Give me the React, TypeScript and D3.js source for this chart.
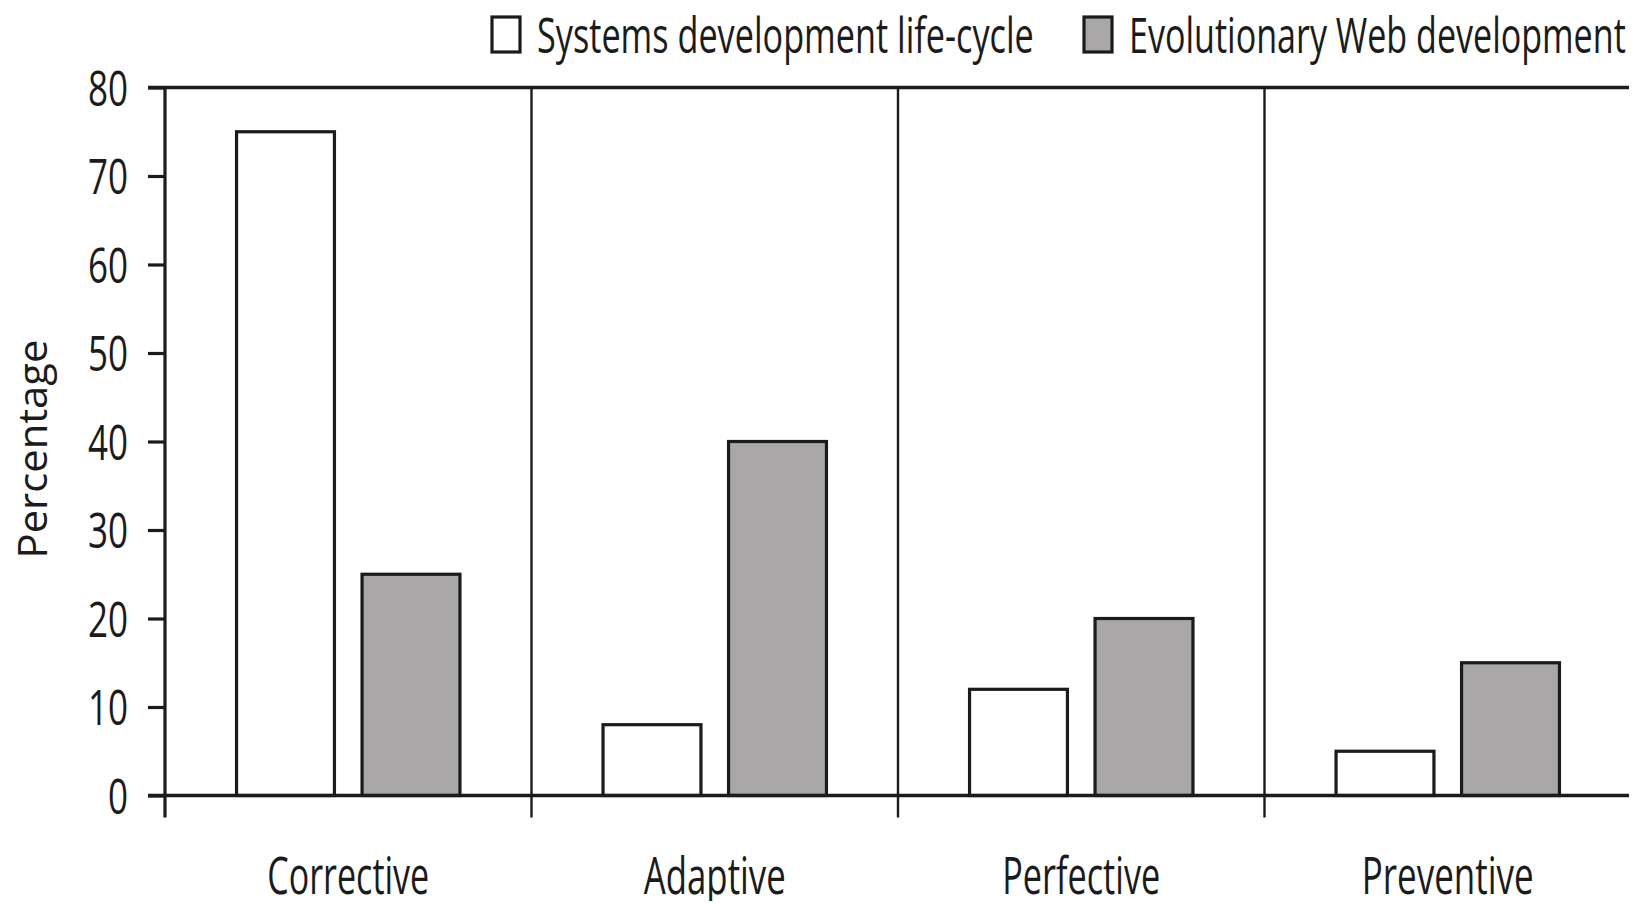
import React, { useEffect, useRef } from "react";
import * as d3 from "d3";

const categories = ["Corrective", "Adaptive", "Perfective", "Preventive"];
const seriesNames = ["Systems development life-cycle", "Evolutionary Web development"];
const sdlcValues = [75, 8, 12, 5];
const webValues = [25, 40, 20, 15];
const yTicks = [0, 10, 20, 30, 40, 50, 60, 70, 80];

// widths the condensed reference font takes (px)
const catWidths = [162, 142, 158, 172];
const legendWidths = [497, 497];

const W = 1637;
const H = 909;
const FONT = "'Open Sans', 'Noto Sans', sans-serif";
const INK = "#1b1b1b";
const GREY = "#a9a7a8";

// squeeze a text horizontally to a wanted width (the reference font is condensed)
function squeeze(sel: any, pos: (d: any, i: number) => [number, number], width: (d: any, i: number) => number, rot = 0) {
  sel.each(function (this: SVGTextElement, d: any, i: number) {
    const n = this.getComputedTextLength() || 1;
    const [px, py] = pos(d, i);
    const s = width(d, i) / n;
    d3.select(this).attr("transform", "translate(" + px + "," + py + ") rotate(" + rot + ") scale(" + s + ",1)");
  });
}

export default function App() {
  const ref = useRef<SVGSVGElement | null>(null);

  useEffect(() => {
    const svg = d3.select(ref.current);
    svg.selectAll("*").remove();

    const left = 165;
    const right = 1631;
    const top = 87.5;
    const bottom = 795.5;

    const x0 = d3.scaleBand<string>().domain(categories).range([left, right]).padding(0);
    const x1 = d3
      .scaleBand<string>()
      .domain(seriesNames)
      .range([0, x0.bandwidth()])
      .paddingInner(0.22)
      .paddingOuter(0.57);
    const y = d3.scaleLinear().domain([0, 80]).range([bottom, top]);

    const g = svg.append("g");

    // bars
    const rows = categories.map((c, i) => ({ c, vals: [sdlcValues[i], webValues[i]] }));
    const groups = g
      .selectAll(".grp")
      .data(rows)
      .enter()
      .append("g")
      .attr("transform", (d) => "translate(" + x0(d.c) + ",0)");
    groups
      .selectAll("rect")
      .data((d) => d.vals.map((v, j) => ({ v, s: seriesNames[j], j })))
      .enter()
      .append("rect")
      .attr("x", (d) => x1(d.s) as number)
      .attr("width", x1.bandwidth())
      .attr("y", (d) => y(d.v))
      .attr("height", (d) => bottom - y(d.v))
      .attr("fill", (d) => (d.j === 0 ? "#fff" : GREY))
      .attr("stroke", INK)
      .attr("stroke-width", 3.2);

    // category boundaries (dividers + ticks below axis)
    const bounds = categories.map((c) => x0(c) as number).concat([right]);
    g.selectAll(".div")
      .data(bounds)
      .enter()
      .append("line")
      .attr("x1", (d) => d)
      .attr("x2", (d) => d)
      .attr("y1", top)
      .attr("y2", bottom + 22)
      .attr("stroke", INK)
      .attr("stroke-width", (d, i) => (i === 0 || i === bounds.length - 1 ? 3.2 : 2.4));

    // frame top and x axis
    g.append("line").attr("x1", left - 17).attr("x2", right + 1.5).attr("y1", top).attr("y2", top)
      .attr("stroke", INK).attr("stroke-width", 3.4);
    g.append("line").attr("x1", left - 17).attr("x2", right + 1.5).attr("y1", bottom).attr("y2", bottom)
      .attr("stroke", INK).attr("stroke-width", 3.4);

    // y axis ticks + labels
    const yAxis = d3.axisLeft(y).tickValues(yTicks).tickSize(17).tickPadding(20).tickFormat(d3.format("d"));
    const ya = g.append("g").attr("transform", "translate(" + left + ",0)").call(yAxis);
    ya.select(".domain").remove();
    ya.selectAll(".tick line").attr("stroke", INK).attr("stroke-width", 3.2);
    ya.selectAll<SVGTextElement, number>(".tick text")
      .attr("font-family", FONT)
      .attr("font-size", 49)
      .attr("fill", INK)
      .attr("dy", "0.36em")
      .attr("textLength", (d) => String(d).length * 20)
      .attr("lengthAdjust", "spacingAndGlyphs");

    // category labels
    const cats = g
      .selectAll(".cat")
      .data(categories)
      .enter()
      .append("text")
      .attr("text-anchor", "middle")
      .attr("font-family", FONT)
      .attr("font-size", 51)
      .attr("fill", INK)
      .text((d) => d);
    squeeze(cats, (d) => [(x0(d) as number) + x0.bandwidth() / 2, 894], (d, i) => catWidths[i]);

    // y title
    const yt = g
      .append("text")
      .attr("text-anchor", "middle")
      .attr("font-family", FONT)
      .attr("font-size", 40)
      .attr("fill", INK)
      .text("Percentage");
    squeeze(yt, () => [47, 449], () => 219, -90);

    // legend
    const legendX = [492, 1084];
    const lg = g
      .selectAll(".lg")
      .data(seriesNames)
      .enter()
      .append("g")
      .attr("transform", (d, i) => "translate(" + legendX[i] + ",17)");
    lg.append("rect")
      .attr("width", 28)
      .attr("height", 35)
      .attr("fill", (d, i) => (i === 0 ? "#fff" : GREY))
      .attr("stroke", INK)
      .attr("stroke-width", 3.2);
    const lt = lg
      .append("text")
      .attr("font-family", FONT)
      .attr("font-size", 50)
      .attr("fill", INK)
      .text((d) => d);
    squeeze(lt, () => [45, 36], (d, i) => legendWidths[i]);
  }, []);

  return <svg ref={ref} width={W} height={H} style={{ display: "block", margin: "-8px" }} />;
}
